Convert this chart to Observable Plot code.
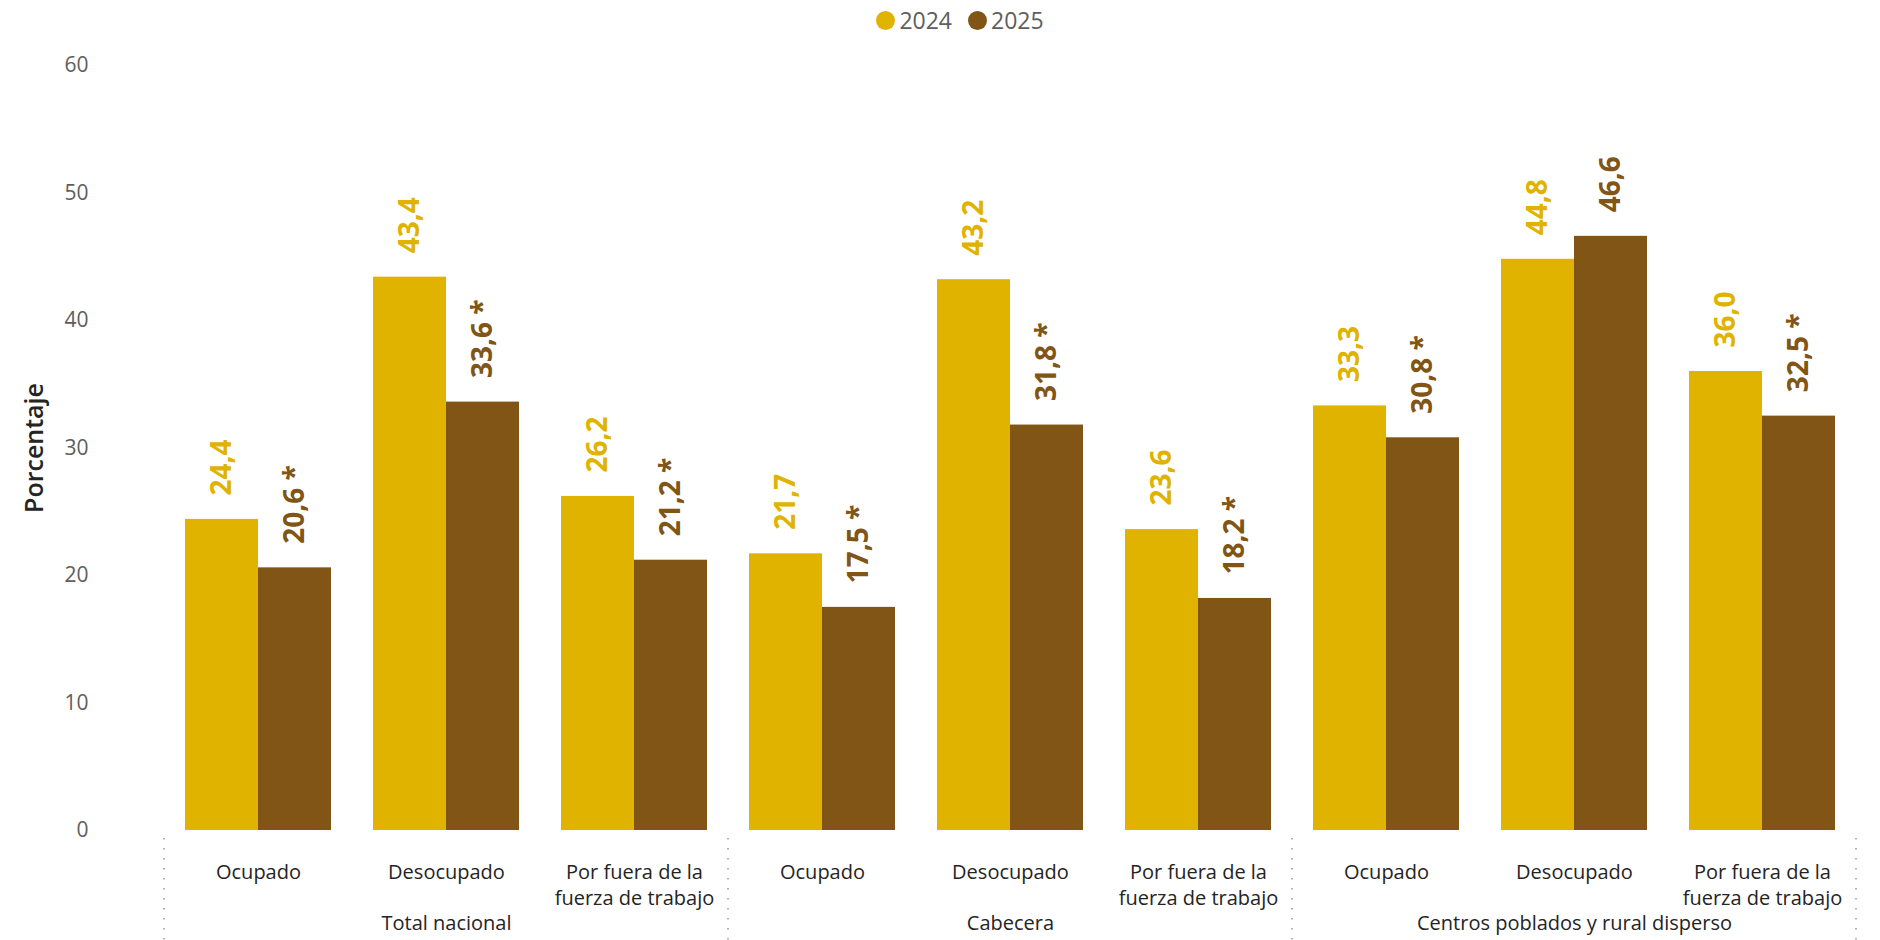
<!DOCTYPE html>
<html>
<head>
<meta charset="utf-8">
<script src="https://cdn.jsdelivr.net/npm/d3@7"></script>
<script src="https://cdn.jsdelivr.net/npm/@observablehq/plot@0.6"></script>
<style>
  html, body { margin: 0; padding: 0; background: #fff; }
  body { width: 1880px; height: 940px; overflow: hidden; font-family: "Open Sans", sans-serif; }
  #legend { height: 40px; display: flex; justify-content: center; align-items: center; gap: 16px; padding-left: 40px; box-sizing: border-box; font-size: 23px; color: #605E5C; }
  #legend .item { display: flex; align-items: center; gap: 4px; }
  #legend .dot { width: 19px; height: 19px; border-radius: 50%; display: inline-block; }
</style>
</head>
<body>
<div id="legend"></div>
<div id="chart"></div>
<script>
const years = ["2024", "2025"];
const colors = ["#DFB300", "#805515"];
const groups = ["Total nacional", "Cabecera", "Centros poblados y rural disperso"];
const categories = ["Ocupado", "Desocupado", "Por fuera de la fuerza de trabajo"];
const categoryLabels = ["Ocupado", "Desocupado", "Por fuera de la\nfuerza de trabajo"];
const values2024 = [24.4, 43.4, 26.2, 21.7, 43.2, 23.6, 33.3, 44.8, 36.0];
const values2025 = [20.6, 33.6, 21.2, 17.5, 31.8, 18.2, 30.8, 46.6, 32.5];
const significant2025 = [true, true, true, true, true, true, true, false, true];
const yTicks = [0, 10, 20, 30, 40, 50, 60];

const keys = [];
groups.forEach(g => categories.forEach(c => keys.push(g + "|" + c)));
const data = [];
keys.forEach((k, i) => {
  data.push({key: k, year: years[0], value: values2024[i], sig: false});
  data.push({key: k, year: years[1], value: values2025[i], sig: significant2025[i]});
});
const fmt = v => v.toFixed(1).replace(".", ",");

// legend
const legend = d3.select("#legend");
years.forEach((y, i) => {
  const it = legend.append("div").attr("class", "item");
  it.append("span").attr("class", "dot").style("background", colors[i]);
  it.append("span").text(y);
});

const chart = Plot.plot({
  width: 1880,
  height: 900,
  marginTop: 25,
  marginBottom: 110,
  marginLeft: 160,
  marginRight: 20,
  style: {fontFamily: "Open Sans, sans-serif", fontSize: "21px", background: "#fff"},
  fx: {domain: keys, padding: 0},
  x: {domain: years, paddingInner: 0, paddingOuter: 0.276, axis: null},
  y: {domain: [0, 60]},
  color: {domain: years, range: colors},
  marks: [
    Plot.axisY({ticks: yTicks, tickSize: 0, tickPadding: 76, label: null, fontSize: 21, color: "#605E5C"}),
    Plot.axisFx({
      anchor: "bottom", tickSize: 0, tickPadding: 30, label: null,
      tickFormat: d => categoryLabels[categories.indexOf(d.split("|")[1])],
      fontSize: 20, lineHeight: 1.3, color: "#252423"
    }),
    Plot.barY(data, {fx: "key", x: "year", y: "value", fill: "year"}),
    Plot.text(data, {
      fx: "key", x: "year", y: "value",
      text: d => fmt(d.value) + (d.sig ? " *" : ""),
      fill: "year", rotate: -90, textAnchor: "start", lineAnchor: "middle",
      dy: -24, fontSize: 28, fontWeight: 700
    }),
    Plot.text(groups, {
      fx: g => g + "|" + categories[1], text: d => d,
      frameAnchor: "bottom", dy: 93, lineAnchor: "middle",
      fontSize: 20, fill: "#252423"
    }),
    Plot.text(["Porcentaje"], {
      fx: () => keys[0], text: d => d,
      frameAnchor: "left", dx: -130, rotate: -90, textAnchor: "middle", lineAnchor: "middle",
      fontSize: 25, fontWeight: 600, fill: "#252423"
    })
  ]
});
document.getElementById("chart").appendChild(chart);

// dotted group separators, positioned from the fx and y scales
const fxs = chart.scale("fx");
const ys = chart.scale("y");
const y0 = ys.apply(0);
const bounds = groups.map(g => fxs.apply(g + "|" + categories[0]));
bounds.push(fxs.apply(keys[keys.length - 1]) + fxs.bandwidth);
const svg = d3.select(chart);
svg.append("g").selectAll("line").data(bounds).join("line")
  .attr("x1", d => d).attr("x2", d => d)
  .attr("y1", y0 + 8).attr("y2", 900)
  .attr("stroke", "#9A9A9A").attr("stroke-width", 1.5)
  .attr("stroke-dasharray", "1.5,8.5");
</script>
</body>
</html>
